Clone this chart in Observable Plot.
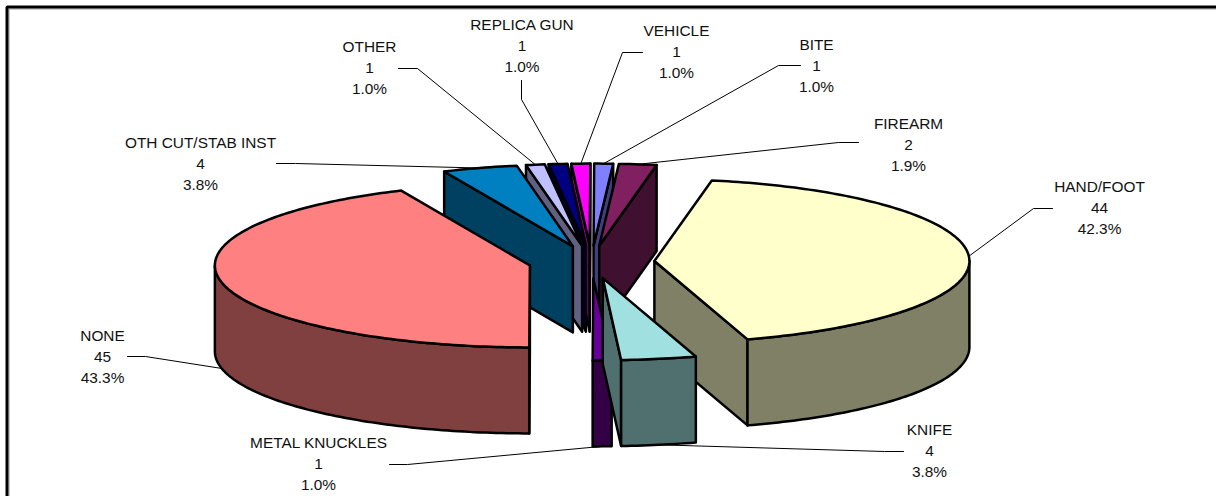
<!DOCTYPE html>
<html>
<head>
<meta charset="utf-8">
<script src="https://cdn.jsdelivr.net/npm/d3@7"></script>
<script src="https://cdn.jsdelivr.net/npm/@observablehq/plot@0.6"></script>
<style>html,body{margin:0;padding:0;background:#fff}svg{display:block}</style>
</head>
<body>
<div id="chart"></div>
<script>
// ---- data ----
const categories = ["HAND/FOOT","KNIFE","METAL KNUCKLES","NONE","OTH CUT/STAB INST","OTHER","REPLICA GUN","VEHICLE","BITE","FIREARM"];
const values = [44,4,1,45,4,1,1,1,1,2];

// ---- styling ----
const topColors  = ["#FFFFCC","#A0E0E0","#660099","#FF8080","#0080C0","#C0C0FF","#000080","#FF00FF","#8080FF","#802060"];
const sideColors = ["#808066","#507070","#330046","#804040","#004060","#606080","#000040","#800080","#404080","#401030"];
const paintOrder = ["VEHICLE","BITE","FIREARM","REPLICA GUN","OTHER","OTH CUT/STAB INST","HAND/FOOT","NONE","METAL KNUCKLES","KNIFE"];

// ---- pie view ----
const view = {cx:591, cy:261.5, rx:315, ry:82, depth:86, explode:0.2, firstAngle:10.5};

// ---- label placement: centre of the text block, then leader start and elbow ----
const labelX = [1099,929,318,102,200,369,521.5,676,816,908];
const labelY = [206,449,462,354.5,161.5,66,44,50,64,143];
const leaderStartX = [1052,903,389,127,276,398,521,642,800,858];
const leaderStartY = [208,451,464,356,163,68,80,52,65,142];
const elbowX = [1033,884,407,145,295,417,521,622,778,838];
const elbowY = [208,451,464,356,163,68,99,52,65,142];

// ---- geometry from the values ----
const total = d3.sum(values);
const rad = a => a * Math.PI / 180;
let running = view.firstAngle;
const slices = categories.map((name, i) => {
  const a0 = running, a1 = running + values[i] / total * 360;
  running = a1;
  const mid = (a0 + a1) / 2;
  const ax = view.cx + view.explode * view.rx * Math.sin(rad(mid));
  const ay = view.cy - view.explode * view.ry * Math.cos(rad(mid));
  return {name, value: values[i], i, a0, a1, mid, ax, ay, top: topColors[i], side: sideColors[i]};
});
const rim = (s, a, drop = 0) => ({
  x: s.ax + view.rx * Math.sin(rad(a)),
  y: s.ay - view.ry * Math.cos(rad(a)) + drop
});
const arc = (s, from, to, drop = 0) => {
  const n = Math.max(2, Math.ceil(Math.abs(to - from)));
  return d3.range(n + 1).map(k => rim(s, from + (to - from) * k / n, drop));
};

const faces = [];
let faceId = 0;
const addFace = (pts, fill) => {
  const id = faceId++;
  [...pts, pts[0]].forEach(p => faces.push({x: p.x, y: p.y, id, fill}));
};
for (const name of paintOrder) {
  const s = slices.find(d => d.name === name);
  const apex = {x: s.ax, y: s.ay}, apexLow = {x: s.ax, y: s.ay + view.depth};
  const wall = a => [apex, rim(s, a), rim(s, a, view.depth), apexLow];
  if (Math.sin(rad(s.a0)) < 0) addFace(wall(s.a0), s.side);
  if (Math.sin(rad(s.a1)) > 0) addFace(wall(s.a1), s.side);
  const lo = Math.max(s.a0, 90), hi = Math.min(s.a1, 270);
  if (hi > lo) addFace([...arc(s, lo, hi), ...arc(s, hi, lo, view.depth)], s.side);
  addFace([apex, ...arc(s, s.a0, s.a1)], s.top);
}

const leaders = slices.flatMap((s, i) => {
  const m = ((s.mid % 360) + 360) % 360;
  const end = rim(s, s.mid, m > 90 && m < 270 ? view.depth : 0);
  return [
    {x: leaderStartX[i], y: leaderStartY[i], z: s.name},
    {x: elbowX[i], y: elbowY[i], z: s.name},
    {x: end.x, y: end.y, z: s.name}
  ];
});
const labels = slices.map((s, i) => ({
  x: labelX[i], y: labelY[i],
  text: `${s.name}\n${s.value}\n${(s.value / total * 100).toFixed(1)}%`
}));

const frame = [{x:6.5,y:496},{x:6.5,y:6.5},{x:1216,y:6.5}];
const frameShade = [{x:8.5,y:496},{x:8.5,y:8.5},{x:1216,y:8.5}];

const chart = Plot.plot({
  width: 1216, height: 496,
  marginTop: 0, marginRight: 0, marginBottom: 0, marginLeft: 0,
  x: {domain: [0, 1216], range: [0, 1216], axis: null},
  y: {domain: [0, 496], range: [0, 496], axis: null},
  color: {type: "identity"},
  style: {background: "#fff", fontFamily: "'Liberation Sans', Arial, sans-serif"},
  marks: [
    Plot.line(frameShade, {x: "x", y: "y", stroke: "#999", strokeWidth: 1}),
    Plot.line(frame, {x: "x", y: "y", stroke: "#000", strokeWidth: 3, strokeLinejoin: "miter"}),
    Plot.line(leaders, {x: "x", y: "y", z: "z", stroke: "#000", strokeWidth: 1, curve: "linear"}),
    Plot.line(faces, {x: "x", y: "y", z: "id", fill: "fill", stroke: "#000", strokeWidth: 2.5, strokeLinejoin: "round", curve: "linear"}),
    Plot.text(labels, {x: "x", y: "y", text: "text", fontSize: 15.4, lineHeight: 1.37, textAnchor: "middle", lineAnchor: "middle", fill: "#111"})
  ]
});
document.getElementById("chart").appendChild(chart);
</script>
</body>
</html>
